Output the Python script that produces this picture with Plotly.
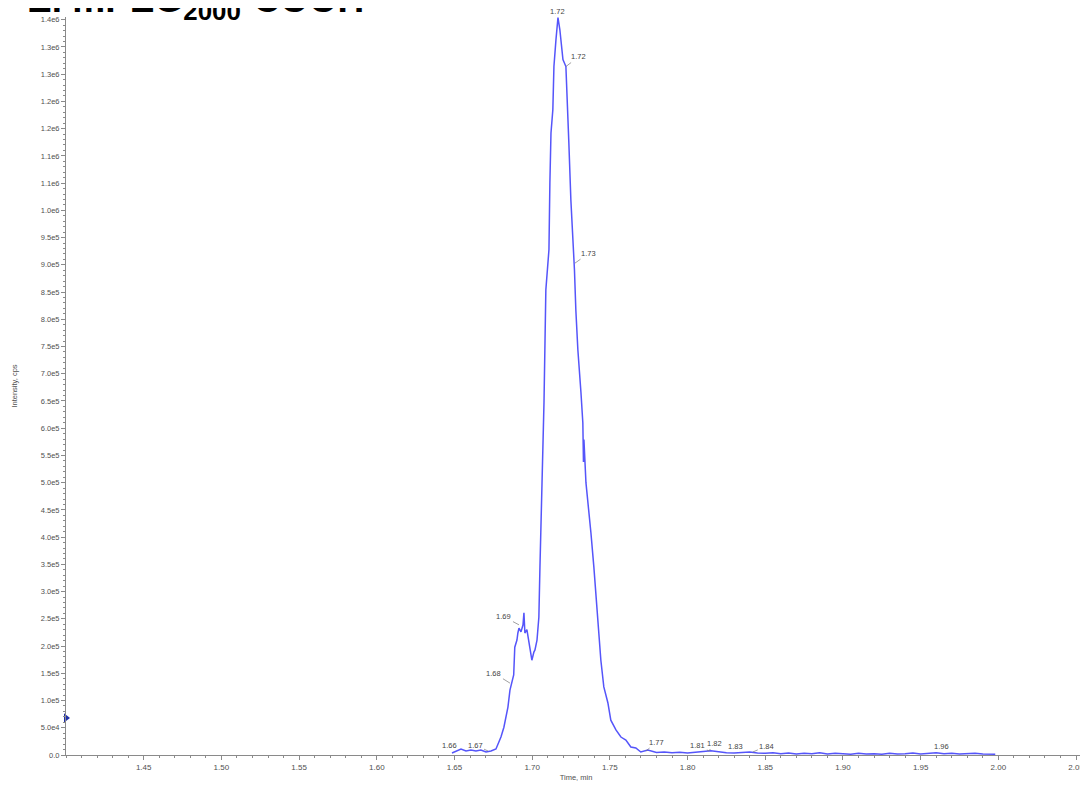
import plotly.graph_objects as go

# ---- data ----
time_min = [1.6484, 1.6510, 1.6542, 1.6574, 1.6606, 1.6638, 1.6670, 1.6703, 1.6735, 1.6767,
            1.6799, 1.6818, 1.6844, 1.6857, 1.6876, 1.6881, 1.6888, 1.6902, 1.6908, 1.6915,
            1.6928, 1.6941, 1.6947, 1.6953, 1.6966, 1.6973, 1.6986, 1.6998, 1.7011, 1.7018,
            1.7031, 1.7043, 1.7050, 1.7056, 1.7063, 1.7069, 1.7076, 1.7088, 1.7108, 1.7114,
            1.7121, 1.7133, 1.7140, 1.7153, 1.7166, 1.7178, 1.7185, 1.7198, 1.7217, 1.7224,
            1.7230, 1.7236, 1.7249, 1.7262, 1.7268, 1.7272, 1.7281, 1.7294, 1.7314, 1.7326,
            1.7330, 1.7333, 1.7346, 1.7359, 1.7378, 1.7397, 1.7423, 1.7442, 1.7461, 1.7487,
            1.7506, 1.7539, 1.7571, 1.7603, 1.7635, 1.7667, 1.7699, 1.7744,
            1.780, 1.785, 1.790, 1.795, 1.800, 1.805, 1.810, 1.815, 1.818, 1.820,
            1.825, 1.830, 1.835, 1.840, 1.845, 1.850, 1.855, 1.860, 1.865, 1.870,
            1.875, 1.880, 1.885, 1.890, 1.895, 1.900, 1.905, 1.910, 1.915, 1.920,
            1.925, 1.930, 1.935, 1.940, 1.945, 1.950, 1.955, 1.960, 1.965, 1.970,
            1.975, 1.980, 1.985, 1.990, 1.995, 1.998]
intensity_cps = [3700, 7300, 11000, 7300, 9200, 7300, 9200, 5500, 7300, 11000,
                 33000, 51000, 88000, 119000, 138000, 147000, 198000, 211000, 224000, 233000,
                 226000, 239000, 261000, 224000, 230000, 217000, 198000, 174000, 189000, 193000,
                 211000, 253000, 345000, 408000, 468000, 529000, 647000, 854000, 928000, 1051000,
                 1142000, 1185000, 1264000, 1313000, 1354000, 1332000, 1313000, 1277000, 1264000, 1216000,
                 1190000, 1124000, 1019000, 959000, 922000, 891000, 817000, 744000, 665000, 610000,
                 538000, 579000, 500000, 456000, 408000, 345000, 235000, 174000, 125000, 96000,
                 64000, 46000, 33000, 27500, 14700, 12900, 5500, 9200,
                 4500, 5500, 4000, 5000, 3500, 5500, 6500, 8000, 7000, 5000,
                 4000, 3500, 4500, 5500, 3500, 3000, 4000, 2500, 3500, 2000,
                 3000, 2500, 4000, 2000, 3000, 2500, 1500, 3000, 2000, 2500,
                 1500, 3000, 2000, 2500, 3500, 2000, 3000, 4000, 2500, 3000,
                 2000, 2500, 3000, 2000, 2500, 1500]

# peak labels: text, anchor time, anchor intensity, text offset (px)
peak_text = ["1.72", "1.72", "1.73", "1.69", "1.68", "1.66", "1.67",
             "1.77", "1.81", "1.82", "1.83", "1.84", "1.96"]
peak_time = [1.7166, 1.7217, 1.7275, 1.6915, 1.6857, 1.6529, 1.6716,
             1.7732, 1.8137, 1.8137, 1.8297, 1.8420, 1.9635]
peak_int = [1354000, 1264000, 903000, 239000, 132000, 7300, 7300,
            7300, 7300, 7300, 5500, 5500, 5500]
peak_dx = [0, 13, 14, -15, -16, -9, -13, 11, -11, 6, 2, 14, 0]
peak_dy = [-6, -10, -10, -8, -10, -6, -6, -9, -6, -8, -6, -6, -6]

x_tick_vals = [1.45, 1.50, 1.55, 1.60, 1.65, 1.70, 1.75, 1.80, 1.85, 1.90, 1.95, 2.00, 2.05]
x_tick_text = ["1.45", "1.50", "1.55", "1.60", "1.65", "1.70", "1.75", "1.80", "1.85",
               "1.90", "1.95", "2.00", "2.05"]
y_tick_text = ["0.0", "5.0e4", "1.0e5", "1.5e5", "2.0e5", "2.5e5", "3.0e5", "3.5e5", "4.0e5",
               "4.5e5", "5.0e5", "5.5e5", "6.0e5", "6.5e5", "7.0e5", "7.5e5", "8.0e5", "8.5e5",
               "9.0e5", "9.5e5", "1.0e6", "1.1e6", "1.1e6", "1.2e6", "1.2e6", "1.3e6", "1.3e6",
               "1.4e6"]
y_tick_vals = [i * 50000 for i in range(len(y_tick_text))]

marker_level = [68000]
x_start = [1.40]

FONT = "Liberation Sans, Arial, sans-serif"
TICK_COLOR = "#505050"

fig = go.Figure()
fig.add_trace(go.Scatter(
    x=time_min, y=intensity_cps, mode="lines",
    line=dict(color="rgb(85,85,250)", width=1.5),
    showlegend=False, hoverinfo="skip"))
fig.add_trace(go.Scatter(
    x=x_start, y=marker_level, mode="markers",
    marker=dict(symbol="triangle-right", size=8, color="#1f2fa8"),
    cliponaxis=False, showlegend=False, hoverinfo="skip"))

for t, xv, yv, dx, dy in zip(peak_text, peak_time, peak_int, peak_dx, peak_dy):
    fig.add_annotation(x=xv, y=yv, text=t, showarrow=True, arrowhead=0,
                       arrowwidth=0.7, arrowcolor="#777777", ax=dx, ay=dy,
                       font=dict(family=FONT, size=7.5, color="#444444"))

fig.add_annotation(xref="paper", yref="paper", x=-0.0402, y=0.9865,
                   xanchor="left", yanchor="bottom", showarrow=False,
                   text="<b>E. mPEG<sub>2000</sub>-COOH</b>",
                   font=dict(family=FONT, size=37, color="black"))

fig.update_layout(
    width=1080, height=777,
    margin=dict(l=58, r=2, t=9, b=30),
    paper_bgcolor="white", plot_bgcolor="white",
    font=dict(family=FONT, size=8, color=TICK_COLOR),
    xaxis=dict(range=[1.40, 2.0564], tickvals=x_tick_vals, ticktext=x_tick_text,
               showgrid=False, zeroline=False, showline=True, linecolor="#8a8a8a",
               linewidth=1, ticks="outside", ticklen=4, tickcolor="#8a8a8a",
               tickfont=dict(family=FONT, size=8, color=TICK_COLOR),
               minor=dict(dtick=0.01, tick0=1.40, ticks="outside", ticklen=2,
                          tickcolor="#8a8a8a", showgrid=False),
               title=dict(text="Time, min", standoff=4,
                          font=dict(family=FONT, size=7.5, color=TICK_COLOR))),
    yaxis=dict(range=[0, 1355000], tickvals=y_tick_vals, ticktext=y_tick_text,
               showgrid=False, zeroline=False, showline=True, linecolor="#8a8a8a",
               linewidth=1, ticks="outside", ticklen=4, tickcolor="#8a8a8a",
               tickfont=dict(family=FONT, size=7.5, color=TICK_COLOR),
               minor=dict(dtick=10000, tick0=0, ticks="outside", ticklen=2,
                          tickcolor="#8a8a8a", showgrid=False),
               title=dict(text="Intensity, cps", standoff=22,
                          font=dict(family=FONT, size=7.5, color=TICK_COLOR))),
)

fig.write_html("out.html")
